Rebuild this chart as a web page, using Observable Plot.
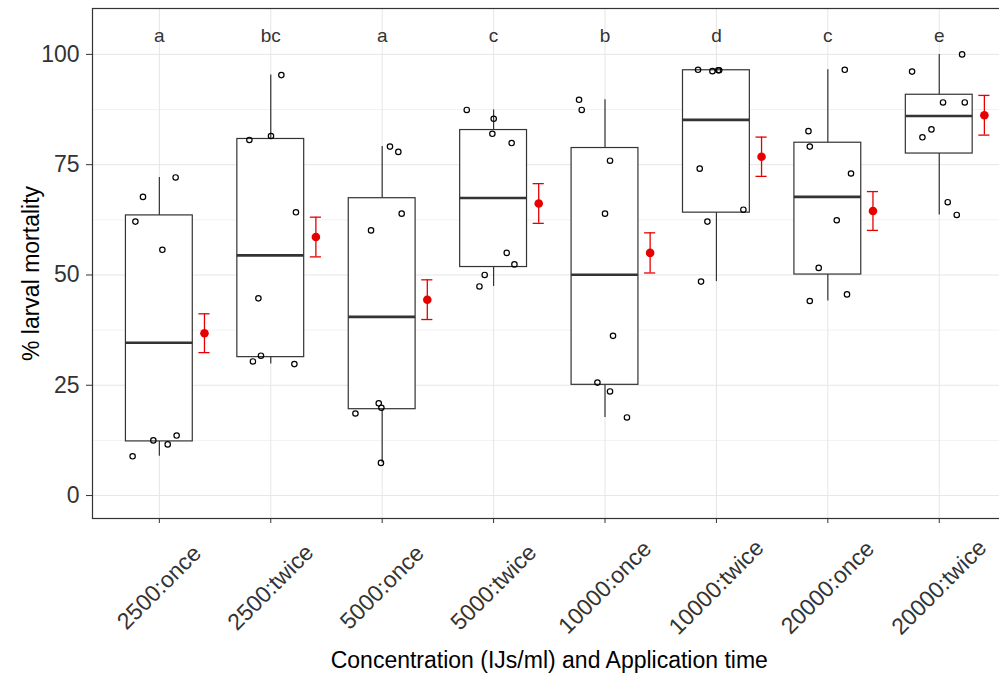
<!DOCTYPE html>
<html>
<head>
<meta charset="utf-8">
<script src="https://cdn.jsdelivr.net/npm/d3@7"></script>
<script src="https://cdn.jsdelivr.net/npm/@observablehq/plot@0.6"></script>
<style>
  html, body { margin: 0; padding: 0; background: #fff; overflow: hidden; }
</style>
</head>
<body>
<div id="chart"></div>
<script>
// Treatment groups: concentration (IJs/ml) x number of applications
const groups = ["2500:once", "2500:twice", "5000:once", "5000:twice",
                "10000:once", "10000:twice", "20000:once", "20000:twice"];

// Significance letters shown above each group
const letters = ["a", "bc", "a", "c", "b", "d", "c", "e"];

// % larval mortality of the eight replicates in each group
const mortality1 = [72.1, 67.7, 62.1, 55.7, 12.5, 11.6, 13.6, 8.9];
const mortality2 = [95.3, 80.6, 81.5, 64.2, 44.7, 30.4, 31.7, 29.8];
const mortality3 = [79.1, 77.9, 63.9, 60.1, 20.9, 19.9, 18.6, 7.4];
const mortality4 = [87.4, 85.4, 82.0, 79.9, 55.0, 52.4, 50.0, 47.4];
const mortality5 = [89.7, 87.4, 75.9, 63.9, 36.2, 25.6, 23.6, 17.7];
const mortality6 = [96.5, 96.2, 96.4, 96.4, 74.1, 64.8, 62.1, 48.5];
const mortality7 = [96.5, 82.6, 79.1, 73.0, 62.4, 51.6, 44.1, 45.6];
const mortality8 = [100, 96.1, 89.1, 89.1, 83.0, 81.2, 66.5, 63.6];

// Horizontal jitter of each replicate (fraction of a category step)
const jitter1 = [0.146, -0.147, -0.215, 0.027, -0.054, 0.075, 0.155, -0.24];
const jitter2 = [0.095, -0.192, 0.002, 0.226, -0.111, -0.16, -0.088, 0.212];
const jitter3 = [0.07, 0.145, 0.175, -0.10, -0.031, -0.007, -0.24, -0.011];
const jitter4 = [-0.241, 0.001, -0.011, 0.162, 0.118, 0.187, -0.08, -0.127];
const jitter5 = [-0.233, -0.209, 0.045, 0, 0.072, -0.068, 0.045, 0.197];
const jitter6 = [-0.165, -0.036, 0.016, 0.025, -0.15, 0.242, -0.081, -0.138];
const jitter7 = [0.152, -0.174, -0.162, 0.208, 0.08, -0.082, -0.162, 0.172];
const jitter8 = [0.205, -0.244, 0.034, 0.229, -0.07, -0.151, 0.076, 0.157];

// Group means and standard errors (red point with error bar)
const meanMortality = [36.8, 58.6, 44.4, 66.2, 55.0, 76.8, 64.5, 86.2];
const seMortality = [4.4, 4.5, 4.5, 4.5, 4.55, 4.45, 4.4, 4.5];

// Y axis ticks and minor grid
const yTicks = [0, 25, 50, 75, 100];
const yMinor = [12.5, 37.5, 62.5, 87.5];
const letterY = 104.3;

const mortality = [mortality1, mortality2, mortality3, mortality4,
                   mortality5, mortality6, mortality7, mortality8];
const jitters = [jitter1, jitter2, jitter3, jitter4,
                 jitter5, jitter6, jitter7, jitter8];

// Long table of replicates
const points = mortality.flatMap((vals, g) =>
  vals.map((v, k) => ({i: g + 1, value: v, jitter: jitters[g][k]})));

// Tukey box statistics (R type-7 quantiles, whiskers at 1.5 IQR)
const stats = mortality.map((vals, g) => {
  const s = vals.slice().sort(d3.ascending);
  const q1 = d3.quantile(s, 0.25), med = d3.quantile(s, 0.5), q3 = d3.quantile(s, 0.75);
  const iqr = q3 - q1;
  const lo = d3.min(s.filter(v => v >= q1 - 1.5 * iqr));
  const hi = d3.max(s.filter(v => v <= q3 + 1.5 * iqr));
  return {i: g + 1, q1, med, q3, lo, hi};
});

const means = meanMortality.map((m, g) => ({i: g + 1, mean: m, se: seMortality[g], letter: letters[g]}));

const boxHalf = 0.3;     // half box width (category units)
const meanShift = 0.405; // offset of mean point to the right of the box
const capHalf = 0.05;    // half width of error-bar caps
const red = "#e60000";
const ink = "#333333";

const chart = Plot.plot({
  width: 999,
  height: 673,
  marginLeft: 92,
  marginRight: -6.6,
  marginTop: 8,
  marginBottom: 155,
  style: {fontFamily: "'Liberation Sans', Arial, sans-serif", background: "#fff", overflow: "hidden"},
  x: {type: "linear", domain: [0.4, 8.6]},
  y: {domain: [-5.2, 110.4]},
  marks: [
    // grid
    Plot.ruleY(yMinor, {stroke: "#f2f2f2", strokeWidth: 1}),
    Plot.ruleY(yTicks, {stroke: "#e6e6e6", strokeWidth: 1}),
    Plot.ruleX(d3.range(1, groups.length + 1), {stroke: "#e6e6e6", strokeWidth: 1}),

    // box plots
    Plot.ruleX(stats, {x: "i", y1: "q3", y2: "hi", stroke: ink, strokeWidth: 1.2}),
    Plot.ruleX(stats, {x: "i", y1: "lo", y2: "q1", stroke: ink, strokeWidth: 1.2}),
    Plot.rect(stats, {x1: d => d.i - boxHalf, x2: d => d.i + boxHalf, y1: "q1", y2: "q3",
                      fill: "white", stroke: ink, strokeWidth: 1.2}),
    Plot.ruleY(stats, {y: "med", x1: d => d.i - boxHalf, x2: d => d.i + boxHalf,
                       stroke: ink, strokeWidth: 2.6}),

    // replicates
    Plot.dot(points, {x: d => d.i + d.jitter, y: "value", r: 2.7, stroke: "black",
                      strokeWidth: 1.2, fill: "none"}),

    // mean +/- SE
    Plot.ruleX(means, {x: d => d.i + meanShift, y1: d => d.mean - d.se, y2: d => d.mean + d.se,
                       stroke: red, strokeWidth: 1.3}),
    Plot.ruleY(means, {y: d => d.mean + d.se, x1: d => d.i + meanShift - capHalf,
                       x2: d => d.i + meanShift + capHalf, stroke: red, strokeWidth: 1.3}),
    Plot.ruleY(means, {y: d => d.mean - d.se, x1: d => d.i + meanShift - capHalf,
                       x2: d => d.i + meanShift + capHalf, stroke: red, strokeWidth: 1.3}),
    Plot.dot(means, {x: d => d.i + meanShift, y: "mean", r: 4.3, fill: red, stroke: "none"}),

    // significance letters
    Plot.text(means, {x: "i", y: () => letterY, text: "letter", fontSize: 19,
                      fill: ink, lineAnchor: "middle"}),

    Plot.frame({stroke: ink, strokeWidth: 1.2}),

    // axes
    Plot.axisX({ticks: d3.range(1, groups.length + 1), tickFormat: i => groups[i - 1],
                tickRotate: -45, textAnchor: "middle", lineAnchor: "middle",
                tickSize: 5, tickPadding: 64, fontSize: 23, color: ink, label: null}),
    Plot.axisY({ticks: yTicks, tickSize: 6, tickPadding: 7, fontSize: 23,
                color: ink, label: null}),

    // axis titles
    Plot.text(["% larval mortality"], {frameAnchor: "left", text: d => d, rotate: -90,
                                       textAnchor: "middle", lineAnchor: "middle",
                                       dx: -61, dy: 10, fontSize: 23, fill: "black"}),
    Plot.text(["Concentration (IJs/ml) and Application time"],
              {frameAnchor: "bottom", text: d => d, textAnchor: "middle", lineAnchor: "middle",
               dy: 142, fontSize: 23, fill: "black"})
  ]
});

document.getElementById("chart").appendChild(chart);
</script>
</body>
</html>
